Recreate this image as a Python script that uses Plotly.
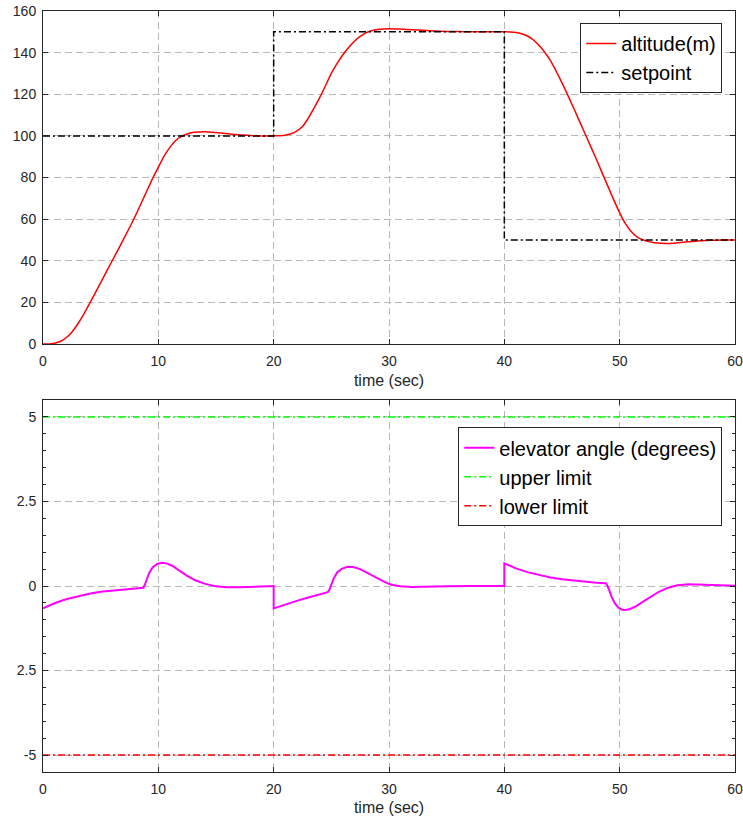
import plotly.graph_objects as go
from plotly.subplots import make_subplots

# --- altitude response (top panel) ---
alt_t = [0, 0.5, 1, 1.5, 2, 2.5, 3, 3.5, 4, 5, 6, 7, 8, 9, 9.5, 10, 10.5, 11, 11.5, 12,
         12.5, 13, 14, 15, 16, 17, 18, 19, 20,
         20.5, 21, 21.5, 22, 22.5, 23, 23.5, 24, 24.5, 25, 25.5, 26, 26.5, 27, 27.5, 28,
         28.5, 29, 30, 31, 32, 33, 34, 35, 36, 37, 38, 39, 40,
         40.5, 41, 41.5, 42, 42.5, 43, 43.5, 44, 45, 46, 47, 48, 49, 50, 50.5, 51, 51.5,
         52, 52.5, 53, 54, 55, 56, 57, 58, 59, 60]
alt_m = [0, 0.05, 0.4, 1.2, 3, 5.7, 9.5, 14, 19, 29.5, 40, 50.5, 61.5, 73.5, 79.5, 85,
         90.3, 94.5, 97.8, 99.8, 100.9, 101.6, 102, 101.6, 101, 100.5, 100.2, 100, 100,
         100.05, 100.3, 101, 102.3, 104.5, 108.5, 113.3, 118.5, 124.2, 130, 134.8, 139,
         142.5, 145.5, 147.8, 149.5, 150.5, 151.1, 151.5, 151.3, 151, 150.7, 150.4,
         150.2, 150.1, 150, 150, 150, 150,
         149.95, 149.7, 149.1, 148, 146.2, 143.5, 140.2, 136.2, 125.5, 113.5, 101,
         88.5, 75.5, 63, 57.8, 54, 51.5, 50.1, 49.2, 48.7, 48.3, 48.6, 49.1, 49.6, 49.9,
         50, 50]

sp_t = [0, 20, 20, 40, 40, 60]
sp_m = [100, 100, 150, 150, 50, 50]

# --- elevator command (bottom panel) ---
elev_t = [0, 0.5, 1, 2, 3, 4, 5, 6, 7, 8, 8.7, 8.85, 9.0, 9.2, 9.5, 9.9, 10.3, 10.7,
          11.2, 11.8, 12.5, 13.2, 14, 15, 16, 17, 18, 19, 20,
          20, 20.5, 21, 22, 23, 24, 24.7, 24.85, 25.0, 25.2, 25.5, 25.9, 26.4, 26.9,
          27.5, 28.2, 29, 29.6, 30.2, 31, 32, 33, 35, 37, 40,
          40, 40.5, 41, 42, 43, 44, 45, 46, 47, 48, 48.8, 48.95, 49.1, 49.3, 49.6,
          49.9, 50.2, 50.5, 50.9, 51.4, 52, 52.7, 53.4, 54.2, 55, 56, 57, 58, 60]
elev_deg = [-0.66, -0.58, -0.51, -0.39, -0.3, -0.23, -0.17, -0.13, -0.1, -0.07, -0.05,
            0.05, 0.2, 0.38, 0.55, 0.65, 0.69, 0.67, 0.6, 0.46, 0.3, 0.17, 0.07, -0.01,
            -0.04, -0.04, -0.03, -0.01, 0,
            -0.66, -0.6, -0.55, -0.44, -0.34, -0.25, -0.18, -0.1, 0.05, 0.22, 0.4, 0.51,
            0.57, 0.56, 0.5, 0.38, 0.22, 0.12, 0.04, -0.01, -0.03, -0.03, -0.01, 0, 0,
            0.67, 0.59, 0.52, 0.41, 0.32, 0.25, 0.2, 0.16, 0.13, 0.1, 0.08, 0.0, -0.13,
            -0.32, -0.52, -0.64, -0.7, -0.71, -0.68, -0.6, -0.47, -0.31, -0.17, -0.05,
            0.02, 0.05, 0.05, 0.03, 0.01]

lim_t = [0, 60]
upper_lim = [5, 5]
lower_lim = [-5, -5]

y2_tickvals = [-5, -2.5, 0, 2.5, 5]
y2_ticktext = ["-5", "2.5", "0", "2.5", "5"]

FONT = "Liberation Sans, Arial, sans-serif"
AXC = "#262626"
GRID = "#b8b8b8"
DASHDOT = "7px,3px,2px,3px"

fig = make_subplots(rows=2, cols=1, vertical_spacing=0.0736)

fig.add_trace(go.Scatter(x=alt_t, y=alt_m, mode="lines", name="altitude(m)",
                         line=dict(color="#ff0000", width=1.5, shape="spline", smoothing=0.8),
                         legend="legend"), row=1, col=1)
fig.add_trace(go.Scatter(x=sp_t, y=sp_m, mode="lines", name="setpoint",
                         line=dict(color="#000000", width=1.5, dash=DASHDOT),
                         legend="legend"), row=1, col=1)

fig.add_trace(go.Scatter(x=elev_t, y=elev_deg, mode="lines", name="elevator angle (degrees)",
                         line=dict(color="#ff00ff", width=2), legend="legend2"), row=2, col=1)
fig.add_trace(go.Scatter(x=lim_t, y=upper_lim, mode="lines", name="upper limit",
                         line=dict(color="#00ff00", width=1.5, dash=DASHDOT),
                         legend="legend2"), row=2, col=1)
fig.add_trace(go.Scatter(x=lim_t, y=lower_lim, mode="lines", name="lower limit",
                         line=dict(color="#ff0000", width=1.5, dash=DASHDOT),
                         legend="legend2"), row=2, col=1)

axis_common = dict(showline=True, linecolor=AXC, linewidth=1, mirror="ticks",
                   ticks="inside", ticklen=5, tickcolor=AXC, automargin=False,
                   showgrid=True, gridcolor=GRID, griddash="7px,4px", gridwidth=1,
                   zeroline=False, tickfont=dict(family=FONT, size=14, color=AXC))

xaxis_common = dict(axis_common, range=[0, 60], tickvals=[0, 10, 20, 30, 40, 50, 60],
                    ticklabelstandoff=4,
                    title=dict(text="time (sec)", standoff=6,
                               font=dict(family=FONT, size=16, color=AXC)))

fig.update_xaxes(**xaxis_common, row=1, col=1)
fig.update_xaxes(**xaxis_common, row=2, col=1)
fig.update_yaxes(**axis_common, range=[0, 160], tickvals=list(range(0, 161, 20)),
                 ticklabelstandoff=3, row=1, col=1)
fig.update_yaxes(**axis_common, range=[-5.5, 5.5], tickvals=y2_tickvals,
                 ticktext=y2_ticktext, ticklabelstandoff=3,
                 minor=dict(dtick=0.5, ticks="inside", ticklen=3, tickcolor=AXC,
                            showgrid=False),
                 row=2, col=1)

legend_style = dict(font=dict(family=FONT, size=20, color="#000000"),
                    bgcolor="#ffffff", bordercolor=AXC, borderwidth=1,
                    xanchor="right", yanchor="top", tracegroupgap=0,
                    itemwidth=30)

fig.update_layout(
    width=743, height=823,
    margin=dict(l=43, r=8, t=11, b=51, autoexpand=False),
    paper_bgcolor="#ffffff", plot_bgcolor="#ffffff",
    font=dict(family=FONT, color=AXC),
    showlegend=True,
    legend=dict(legend_style, x=0.9816, y=0.9842),
    legend2=dict(legend_style, x=0.9816, y=0.453),
)

fig.update_yaxes(domain=[0.5624, 1.0], row=1, col=1)
fig.update_yaxes(domain=[0.0, 0.4888], row=2, col=1)

fig.write_html("out.html")
